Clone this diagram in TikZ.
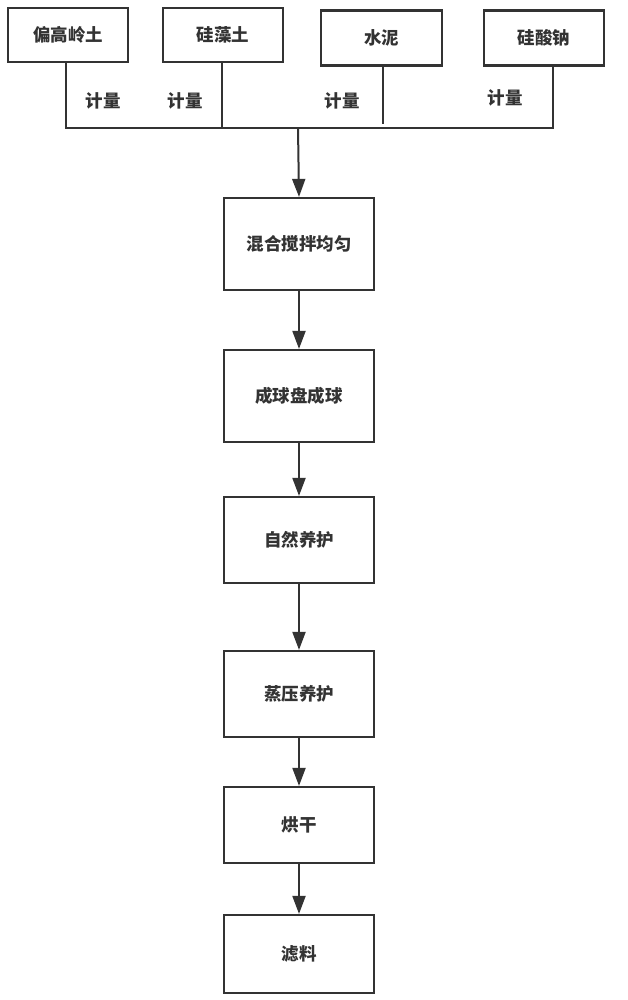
\documentclass[tikz,border=0pt]{standalone}
\usepackage{fontspec}
\newfontfamily\cjk{Noto Sans CJK SC}
\usetikzlibrary{arrows.meta}
\definecolor{ln}{HTML}{333333}
\begin{document}
\begin{tikzpicture}[x=1pt,y=-1pt,
  box/.style={draw=ln,line width=2.2pt,fill=white,inner sep=0pt,font=\cjk\bfseries\fontsize{17.5}{19}\selectfont,text=ln},
  lbl/.style={font=\cjk\bfseries\fontsize{17.5}{19}\selectfont,text=ln,inner sep=0pt},
  wire/.style={draw=ln,line width=2pt},
  arr/.style={draw=ln,line width=2pt,-{Triangle[length=18pt,width=13pt]}}]
\useasboundingbox (0,0) rectangle (627,1000);
% top boxes
\node[box,minimum width=120pt,minimum height=54pt] (a) at (68,35) {偏高岭土};
\node[box,minimum width=120pt,minimum height=54pt] (b) at (223,35) {硅藻土};
\node[box,minimum width=121pt,minimum height=55pt] (c) at (381.5,38) {水泥};
\node[box,minimum width=120pt,minimum height=55pt] (d) at (544,38) {硅酸钠};
% collector
\coordinate (ja) at (66,128);
\coordinate (jb) at (222,128);
\coordinate (jc) at (383,124);
\coordinate (jd) at (553,128);
\coordinate (jm) at (298,128);
\draw[wire] (a.south -| ja) -- (ja) -- (jd) -- (d.south -| jd);
\draw[wire] (b.south -| jb) -- (jb);
\draw[wire] (c.south -| jc) -- (jc);
\node[lbl] (l1) at (103,101) {计量};
\node[lbl] (l2) at (185,101) {计量};
\node[lbl] (l3) at (342,101) {计量};
\node[lbl] (l4) at (505,98) {计量};
% main chain
\node[box,minimum width=150pt,minimum height=92pt] (s1) at (299,244) {混合搅拌均匀};
\node[box,minimum width=150pt,minimum height=92pt] (s2) at (299,396) {成球盘成球};
\node[box,minimum width=150pt,minimum height=86pt] (s3) at (299,540) {自然养护};
\node[box,minimum width=150pt,minimum height=86pt] (s4) at (299,694) {蒸压养护};
\node[box,minimum width=150pt,minimum height=76pt] (s5) at (299,825) {烘干};
\node[box,minimum width=150pt,minimum height=78pt] (s6) at (299,954) {滤料};
\draw[arr] (jm) -- (s1.north);
\draw[arr] (s1) -- (s2);
\draw[arr] (s2) -- (s3);
\draw[arr] (s3) -- (s4);
\draw[arr] (s4) -- (s5);
\draw[arr] (s5) -- (s6);
\end{tikzpicture}
\end{document}
